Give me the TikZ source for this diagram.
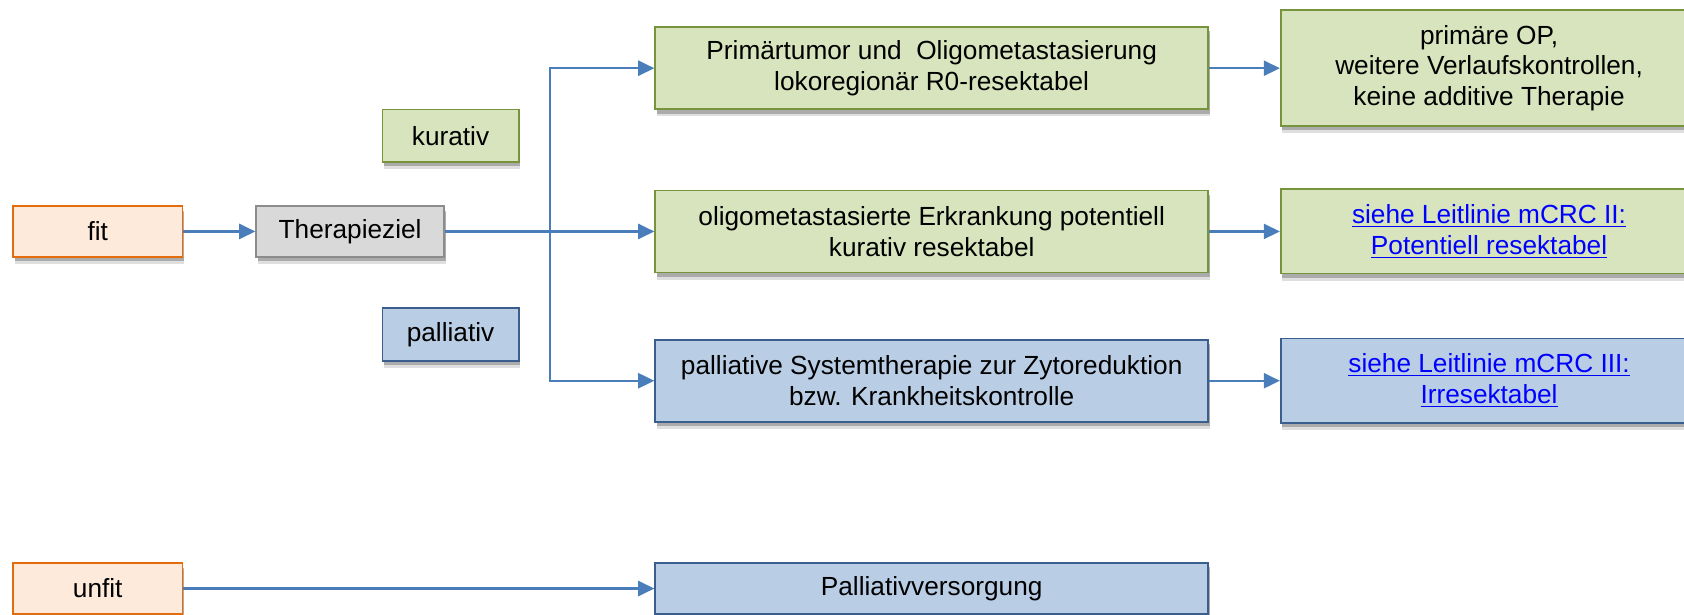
\documentclass[tikz,border=0pt]{standalone}
\usepackage{fontspec}
\setmainfont{Liberation Sans}
\usetikzlibrary{shapes.geometric, arrows.meta, positioning, shadows}

\definecolor{fitfill}{HTML}{FDEADA}
\definecolor{fitdraw}{HTML}{E46C0A}
\definecolor{greyfill}{HTML}{D9D9D9}
\definecolor{greydraw}{HTML}{8C8C8C}
\definecolor{kurfill}{HTML}{D7E4BD}
\definecolor{kurdraw}{HTML}{77933C}
\definecolor{palfill}{HTML}{B9CDE5}
\definecolor{paldraw}{HTML}{3A5F8F}
\definecolor{pfeil}{HTML}{4A7EBB}
\definecolor{linkblue}{HTML}{0000FF}

\newcommand{\leitlink}[1]{\textcolor{linkblue}{\underline{#1}}}

\begin{document}
\begin{tikzpicture}[x=0.02cm, y=-0.02cm, font=\fontsize{13.9}{16.4}\selectfont]
        % Styles
        \tikzstyle{block} = [rectangle, draw, line width=0.9pt, align=center, inner sep=2pt, minimum height=0.94cm,
            drop shadow={shadow xshift=0.03cm, shadow yshift=-0.13cm, opacity=0.25},
            drop shadow={shadow xshift=0.03cm, shadow yshift=-0.08cm, opacity=0.55}]
        \tikzstyle{fitbox} = [block, fill=fitfill, draw=fitdraw, minimum width=3.16cm]
        \tikzstyle{zielbox} = [block, fill=greyfill, draw=greydraw, minimum width=3.5cm]
        \tikzstyle{kurbox} = [block, fill=kurfill, draw=kurdraw]
        \tikzstyle{palbox} = [block, fill=palfill, draw=paldraw]
        \tikzstyle{tag} = [minimum width=2.54cm, minimum height=0.98cm]
        \tikzstyle{wide} = [minimum width=10.3cm, minimum height=1.53cm]
        \tikzstyle{result} = [minimum width=7.76cm, minimum height=1.57cm]
        \tikzstyle{line} = [draw=pfeil, line width=1.2pt, -{Triangle[length=0.3cm, width=0.28cm]}]

        \useasboundingbox (0,0) rectangle (1568,572);

        % Nodes
        \node [fitbox] (fit) at (91,215.5) {fit};
        \node [zielbox, right=1.34cm of fit] (ziel) {Therapieziel};
        \node [kurbox, tag] (kurativ) at (419.5,126.5) {kurativ};
        \node [palbox, tag] (palliativ) at (419.5,311.5) {palliativ};

        \node [kurbox, wide] (resekt) at (867.5,63.5) {Primärtumor und~~Oligometastasierung\\lokoregionär R0-resektabel};
        \node [kurbox, wide] (oligo) at (867.5,215.5) {oligometastasierte Erkrankung potentiell\\kurativ resektabel};
        \node [palbox, wide] (system) at (867.5,354.5) {palliative Systemtherapie zur Zytoreduktion\\bzw. Krankheitskontrolle};

        \node [kurbox, result, minimum height=2.16cm, right=1.32cm of resekt] (primop) {primäre OP,\\weitere Verlaufskontrollen,\\keine additive Therapie};
        \node [kurbox, result, right=1.32cm of oligo] (mcrc2) {\leitlink{siehe Leitlinie mCRC II:}\\\leitlink{Potentiell resektabel}};
        \node [palbox, result, right=1.32cm of system] (mcrc3) {\leitlink{siehe Leitlinie mCRC III:}\\\leitlink{Irresektabel}};

        \node [fitbox] (unfit) at (91,548) {unfit};
        \node [palbox, minimum width=10.3cm, minimum height=0.96cm] (versorgung) at (867.5,548) {Palliativversorgung};

        \coordinate (split) at (512,215.5);

        % Paths
        \path [line] (fit) -- (ziel);
        \path [line] (ziel) -- (oligo);
        \path [line] (split) |- (resekt.west);
        \path [line] (split) |- (system.west);
        \path [line] (resekt) -- (primop);
        \path [line] (oligo) -- (mcrc2);
        \path [line] (system) -- (mcrc3);
        \path [line] (unfit) -- (versorgung);
    \end{tikzpicture}
\end{document}
